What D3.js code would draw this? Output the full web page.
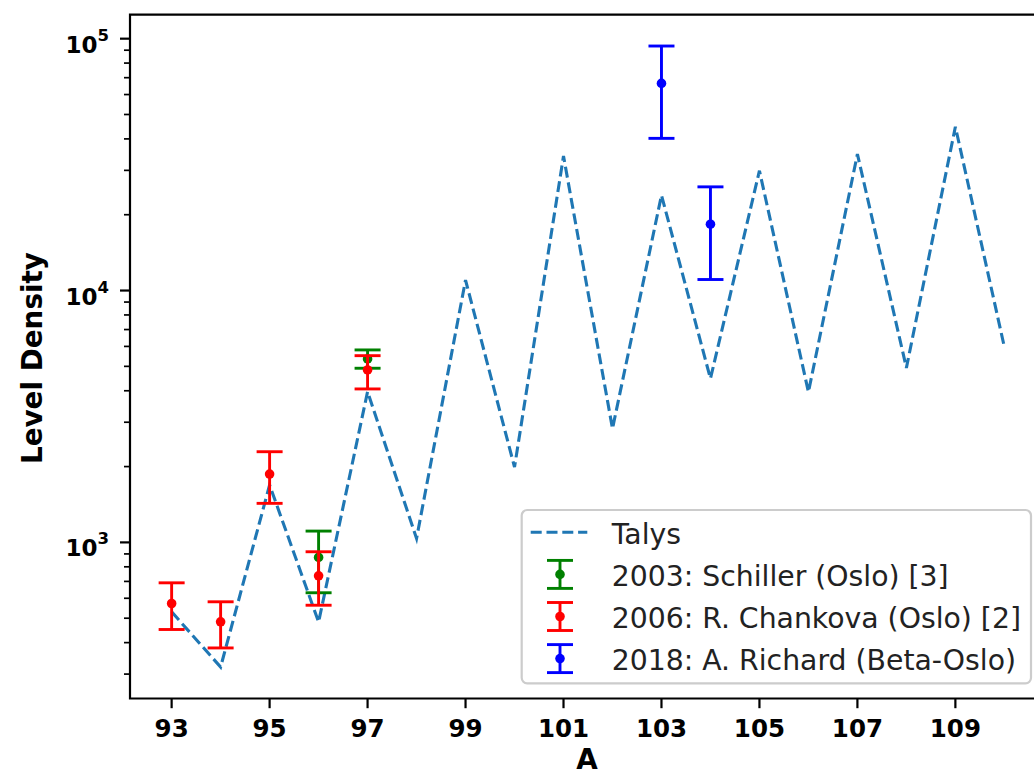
<!DOCTYPE html>
<html>
<head>
<meta charset="utf-8">
<script src="https://cdn.jsdelivr.net/npm/d3@7"></script>
<style>
  body { margin: 0; background: #fff; }
  svg { display: block; font-family: "DejaVu Sans", sans-serif; }
</style>
</head>
<body>
<div id="chart"></div>
<script>
// Talys calculation
const talysA = [93, 94, 95, 96, 97, 98, 99, 100, 101, 102, 103, 104, 105, 106, 107, 108, 109, 110];
const talysRho = [530, 320, 1690, 483, 3965, 1037, 11000, 1990, 34200, 2830, 23900, 4470, 29900, 3955, 34800, 4930, 44700, 5970];

// 2003: Schiller (Oslo) [3]
const schillerA = [96, 97];
const schillerRho = [872, 5350];
const schillerLo = [631, 4914];
const schillerHi = [1109, 5810];

// 2006: R. Chankova (Oslo) [2]
const chankovaA = [93, 94, 95, 96, 97];
const chankovaRho = [572, 484, 1868, 737, 4839];
const chankovaLo = [451, 381, 1429, 563, 4067];
const chankovaHi = [691, 581, 2291, 918, 5513];

// 2018: A. Richard (Beta-Oslo)
const richardA = [103, 104];
const richardRho = [66450, 18340];
const richardLo = [40200, 11060];
const richardHi = [93500, 25800];

const xTicks = [93, 95, 97, 99, 101, 103, 105, 107, 109];
const yMajor = [1e3, 1e4, 1e5];
const yExp = ["3", "4", "5"];

const W = 1034, H = 776;
const pLeft = 130, pRight = 1046, pTop = 14.7, pBottom = 698.5;

const svg = d3.select("#chart").append("svg")
    .attr("width", W)
    .attr("height", H);

const x = d3.scaleLinear().domain([92.15, 110.85]).range([pLeft, pRight]);
const y = d3.scaleLog().domain([240, 124500]).range([pBottom, pTop]);

const clip = svg.append("defs").append("clipPath").attr("id", "plotclip");
clip.append("rect").attr("x", pLeft).attr("y", pTop).attr("width", pRight - pLeft).attr("height", pBottom - pTop);

// Talys dashed line
const line = d3.line().x(d => x(d[0])).y(d => y(d[1]));
svg.append("path")
    .datum(d3.zip(talysA, talysRho))
    .attr("clip-path", "url(#plotclip)")
    .attr("d", line)
    .attr("fill", "none")
    .attr("stroke", "#1f77b4")
    .attr("stroke-width", 3.1)
    .attr("stroke-dasharray", "11,4.8");

// error bars
const series = [
  {name: "2003: Schiller (Oslo) [3]", color: "green", a: schillerA, v: schillerRho, lo: schillerLo, hi: schillerHi},
  {name: "2006: R. Chankova (Oslo) [2]", color: "red", a: chankovaA, v: chankovaRho, lo: chankovaLo, hi: chankovaHi},
  {name: "2018: A. Richard (Beta-Oslo)", color: "blue", a: richardA, v: richardRho, lo: richardLo, hi: richardHi}
];
const capW = 13;

series.forEach(s => {
  const g = svg.append("g").attr("stroke", s.color).attr("fill", s.color);
  const pts = s.a.map((a, i) => ({a: a, v: s.v[i], lo: s.lo[i], hi: s.hi[i]}));
  g.selectAll(".bar").data(pts).enter().append("line")
      .attr("x1", d => x(d.a)).attr("x2", d => x(d.a))
      .attr("y1", d => y(d.lo)).attr("y2", d => y(d.hi))
      .attr("stroke-width", 2.9);
  g.selectAll(".capHi").data(pts).enter().append("line")
      .attr("x1", d => x(d.a) - capW).attr("x2", d => x(d.a) + capW)
      .attr("y1", d => y(d.hi)).attr("y2", d => y(d.hi))
      .attr("stroke-width", 2.9);
  g.selectAll(".capLo").data(pts).enter().append("line")
      .attr("x1", d => x(d.a) - capW).attr("x2", d => x(d.a) + capW)
      .attr("y1", d => y(d.lo)).attr("y2", d => y(d.lo))
      .attr("stroke-width", 2.9);
  g.selectAll("circle").data(pts).enter().append("circle")
      .attr("cx", d => x(d.a)).attr("cy", d => y(d.v))
      .attr("r", 4.8).attr("stroke", "none");
});

// spines
const spine = svg.append("g").attr("stroke", "#000").attr("stroke-width", 2.2).attr("fill", "none");
spine.append("path").attr("d", `M${pLeft},${pTop}V${pBottom}H${pRight}V${pTop}Z`);

// x ticks
const xg = svg.append("g");
xg.selectAll("line").data(xTicks).enter().append("line")
    .attr("x1", d => x(d)).attr("x2", d => x(d))
    .attr("y1", pBottom).attr("y2", pBottom + 9.7)
    .attr("stroke", "#000").attr("stroke-width", 2.2);
xg.selectAll("text").data(xTicks).enter().append("text")
    .attr("x", d => x(d)).attr("y", pBottom + 38.5)
    .attr("text-anchor", "middle")
    .attr("font-size", 24.5).attr("font-weight", "bold")
    .text(d => d);

// y ticks (log, with minor ticks)
const yMinor = [];
[100, 1000, 10000].forEach(dec => {
  [2, 3, 4, 5, 6, 7, 8, 9].forEach(m => {
    const v = m * dec;
    if (v >= y.domain()[0] && v <= y.domain()[1]) yMinor.push(v);
  });
});
const yg = svg.append("g");
yg.selectAll(".minor").data(yMinor).enter().append("line")
    .attr("x1", pLeft - 6).attr("x2", pLeft)
    .attr("y1", d => y(d)).attr("y2", d => y(d))
    .attr("stroke", "#000").attr("stroke-width", 1.7);
yg.selectAll(".major").data(yMajor).enter().append("line")
    .attr("x1", pLeft - 10).attr("x2", pLeft)
    .attr("y1", d => y(d)).attr("y2", d => y(d))
    .attr("stroke", "#000").attr("stroke-width", 2.2);
const ylab = yg.selectAll(".lab").data(yMajor).enter().append("text")
    .attr("x", 109).attr("y", d => y(d) + 14)
    .attr("text-anchor", "end")
    .attr("font-weight", "bold");
ylab.append("tspan").attr("font-size", 23).text("10");
ylab.append("tspan").attr("font-size", 16.5).attr("dy", -12).text((d, i) => yExp[i]);

// axis labels
svg.append("text")
    .attr("transform", `translate(41.5,${(pTop + pBottom) / 2 + 1.5}) rotate(-90)`)
    .attr("text-anchor", "middle")
    .attr("font-size", 27.8).attr("font-weight", "bold")
    .text("Level Density");
svg.append("text")
    .attr("x", (pLeft + pRight) / 2 - 1).attr("y", 769)
    .attr("text-anchor", "middle")
    .attr("font-size", 27.8).attr("font-weight", "bold")
    .text("A");

// legend
const lg = svg.append("g");
const lx = 521.7, ly = 510, rowY0 = 532.3, rowDy = 42.1, fs = 28.3;
const box = lg.append("rect")
    .attr("x", lx).attr("y", ly).attr("rx", 5.5).attr("ry", 5.5)
    .attr("fill", "#fff").attr("fill-opacity", 0.8)
    .attr("stroke", "#cccccc").attr("stroke-width", 2.2);

lg.append("line")
    .attr("x1", 530.7).attr("x2", 587.3)
    .attr("y1", rowY0).attr("y2", rowY0)
    .attr("stroke", "#1f77b4").attr("stroke-width", 3.1)
    .attr("stroke-dasharray", "11,4.8");

const labels = ["Talys"].concat(series.map(s => s.name));
const texts = lg.selectAll("text").data(labels).enter().append("text")
    .attr("x", 611.7).attr("y", (d, i) => rowY0 + i * rowDy + 11.5)
    .attr("font-size", fs).attr("fill", "#222")
    .text(d => d);

series.forEach((s, i) => {
  const cy = rowY0 + (i + 1) * rowDy, cx = 560;
  const h = lg.append("g").attr("stroke", s.color).attr("fill", s.color).attr("stroke-width", 2.9);
  h.append("line").attr("x1", cx).attr("x2", cx).attr("y1", cy - 14).attr("y2", cy + 14);
  h.append("line").attr("x1", cx - capW).attr("x2", cx + capW).attr("y1", cy - 14).attr("y2", cy - 14);
  h.append("line").attr("x1", cx - capW).attr("x2", cx + capW).attr("y1", cy + 14).attr("y2", cy + 14);
  h.append("circle").attr("cx", cx).attr("cy", cy).attr("r", 4.8).attr("stroke", "none");
});

let maxRight = 0;
texts.each(function() {
  const b = this.getBBox();
  maxRight = Math.max(maxRight, b.x + b.width);
});
box.attr("width", Math.min(maxRight + 11, 1031) - lx).attr("height", 683.3 - ly);
</script>
</body>
</html>
